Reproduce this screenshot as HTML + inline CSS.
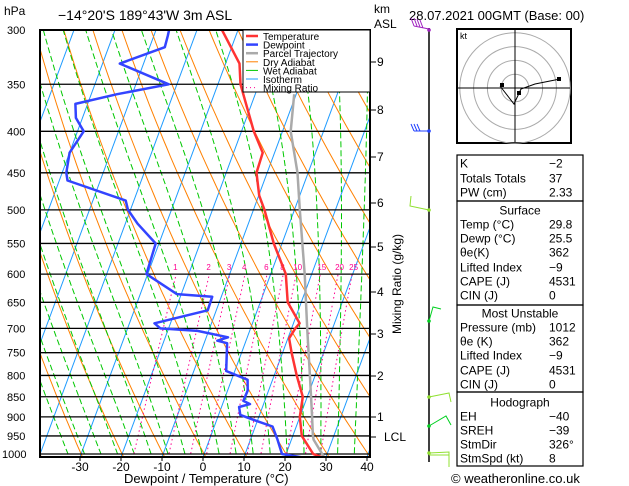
<!DOCTYPE html>
<html><head><meta charset="utf-8"><style>
body{margin:0;background:#fff;}
svg{display:block;font-family:"Liberation Sans",sans-serif;}
</style></head><body>
<svg id="c" width="629" height="486" viewBox="0 0 629 486" xmlns="http://www.w3.org/2000/svg">
<defs><clipPath id="pc"><rect x="40" y="30" width="330" height="427"/></clipPath></defs>
<rect width="629" height="486" fill="#fff"/>
<g id="bg" clip-path="url(#pc)"></g>
<g id="prs"></g>
<g id="prof" clip-path="url(#pc)"></g>
<rect x="40" y="30" width="330" height="427" fill="none" stroke="#000" stroke-width="2"/>
<g id="ax"></g>
<text x="4" y="15" font-size="12">hPa</text>
<text x="58" y="20" font-size="14">−14°20'S  189°43'W  3m  ASL</text>
<text x="374" y="13" font-size="12">km</text>
<text x="374" y="28" font-size="12">ASL</text>
<text x="409" y="20" font-size="13">28.07.2021  00GMT  (Base: 00)</text>
<text x="124" y="483" font-size="13">Dewpoint / Temperature (°C)</text>
<text transform="translate(401,334) rotate(-90)" font-size="12">Mixing Ratio (g/kg)</text>
<g id="legend">
<rect x="243" y="30" width="127" height="62" fill="#fff" stroke="#000" stroke-width="1"/>
</g>
<g id="wind"></g>
<g id="hodo"></g>
<g id="tbl"></g>
<text x="451" y="483" font-size="13">© weatheronline.co.uk</text>
</svg>
<script>
const NS="http://www.w3.org/2000/svg";
// ---- data ----
const tempP=[1012,1000,950,900,850,800,750,720,700,690,650,600,550,500,480,450,425,400,350,330,300];
const tempT=[29.8,26.6,22.2,20.0,18.9,15.5,12.2,10.3,10.9,11.5,6.7,3.7,-2.0,-7.3,-9.9,-12.6,-12.9,-17,-24.5,-26.6,-33.9];
const dewP=[1012,1000,960,925,910,895,875,868,860,835,810,790,730,725,718,705,700,690,665,640,635,600,550,520,500,487,460,450,425,400,385,370,360,350,330,315,305,300];
const dewT=[25.5,19,16.6,14.2,9.7,5.3,4.3,6.7,4.8,4.9,3.9,-2.1,-4.4,-7,-4.7,-12.7,-22,-23.9,-12.1,-12.2,-21.1,-30.3,-30.8,-37,-40.6,-42,-58,-59,-60,-58.5,-61.6,-63,-53.7,-42,-55.8,-46.3,-46.6,-46.8];
const parcelP=[1012,960,950,900,800,700,600,500,450,400,360];
const parcelT=[29.8,25.4,24.9,23,18.7,13.8,8.3,1.3,-2.6,-8,-10.5];
const pLevels=[300,350,400,450,500,550,600,650,700,750,800,850,900,950,1000];
const tTicks=[-30,-20,-10,0,10,20,30,40];
const kmLabels=["9","8","7","6","5","4","3","2","1","LCL"];
const kmY=[62,110,157,203,247,292,334,376,417,437];
const mixR=[1,2,3,4,6,8,10,15,20,25];
// ---- axes ----
const Y=p=>30+424*Math.log(p/300)/Math.log(1000/300);
const X=(t,p)=>203+4.1*t+0.37*(457-Y(p));
function el(tag,attrs,parent,name,txt){const e=document.createElementNS(NS,tag);for(const k in attrs)e.setAttribute(k,attrs[k]);


if(txt!==undefined)e.textContent=txt;parent.appendChild(e);return e;}
const bg=document.getElementById('bg'),prs=document.getElementById('prs'),prof=document.getElementById('prof'),ax=document.getElementById('ax');
function pathFrom(pts){return 'M'+pts.map(q=>q[0].toFixed(1)+','+q[1].toFixed(1)).join('L');}
// isotherms
for(let t=-120;t<=50;t+=10){el('line',{x1:X(t,1050),y1:Y(1050),x2:X(t,280),y2:Y(280),stroke:'#1e9bff','stroke-width':1},bg,'isotherm');}
// dry adiabats
for(let th=-40;th<=180;th+=10){const pts=[];for(let p=1050;p>=290;p-=10){const T=(th+273.15)*Math.pow(p/1000,0.286)-273.15;pts.push([X(T,p),Y(p)]);}
el('path',{d:pathFrom(pts),fill:'none',stroke:'#ff8000','stroke-width':1},bg,'dry-adiabat');}
// wet adiabats
function es(T){return 6.112*Math.exp(17.67*T/(T+243.5));}
for(let t0=-30;t0<=40;t0+=4){let T=t0;const pts=[[X(T,1050),Y(1050)]];
for(let p=1050;p>290;p-=5){const Tk=T+273.15;const rs=0.622*es(T)/(p-es(T));const Lv=2.5e6,Rd=287,cp=1005;
const dTdp=(Rd*Tk+Lv*rs)/(p*(cp+Lv*Lv*rs*0.622/(Rd*Tk*Tk)));T-=dTdp*5;pts.push([X(T,p-5),Y(p-5)]);}
el('path',{d:pathFrom(pts),fill:'none',stroke:'#00c800','stroke-width':1,'stroke-dasharray':'6,3'},bg,'wet-adiabat');}
// mixing ratio
mixR.forEach(w=>{const pts=[];for(let p=1050;p>=600;p-=10){const e=w*p/(622+w);const l=Math.log(e/6.112);const Td=243.5*l/(17.67-l);pts.push([X(Td,p),Y(p)]);}
el('path',{d:pathFrom(pts),fill:'none',stroke:'#ff0090','stroke-width':1,'stroke-dasharray':'1.5,3'},bg,'mixing-ratio-line');
const e=w*600/(622+w);const l=Math.log(e/6.112);const Td=243.5*l/(17.67-l);
el('text',{x:X(Td,600)-3,y:270,'font-size':8,fill:'#ff0090'},prof,'mixing-ratio-label',String(w));});
// pressure lines & labels
pLevels.forEach(p=>{el('line',{x1:40,y1:Y(p),x2:370,y2:Y(p),stroke:'#000','stroke-width':1.3},prs,'pressure-line');
el('text',{x:p==1000?2:7,y:Y(p)+4,'font-size':11},ax,'pressure-tick-label',String(p));});
tTicks.forEach(t=>{const x=203+4.1*t;el('line',{x1:x,y1:457,x2:x,y2:461,stroke:'#000'},ax,'x-tick');
el('text',{x:x,y:471,'font-size':12,'text-anchor':'middle'},ax,'x-tick-label',String(t));});
kmLabels.forEach((k,i)=>{el('line',{x1:370,y1:kmY[i],x2:376,y2:kmY[i],stroke:'#000'},ax,'km-tick');
el('text',{x:i==9?384:377,y:kmY[i]+4,'font-size':12},ax,'km-label',k);});
// profiles
function prof2(P,T,c,w,n){el('path',{d:pathFrom(P.map((p,i)=>[X(T[i],p),Y(p)])),fill:'none',stroke:c,'stroke-width':w,'stroke-linejoin':'round'},prof,n);}
prof2(parcelP,parcelT,'#aaaaaa',2.5,'parcel-trajectory');
prof2(tempP,tempT,'#ff3333',2.5,'temperature-line');
prof2(dewP,dewT,'#3344ff',2.5,'dewpoint-line');
// legend
const lg=document.getElementById('legend');
[['Temperature','#ff3333',2.5,''],['Dewpoint','#3344ff',2.5,''],['Parcel Trajectory','#aaaaaa',2.5,''],['Dry Adiabat','#ff8000',1,''],['Wet Adiabat','#00c800',1,''],['Isotherm','#1e9bff',1,''],['Mixing Ratio','#ff0090',1,'1,3']].forEach((r,i)=>{const y=36+i*8.6;
el('line',{x1:246,y1:y,x2:258,y2:y,stroke:r[1],'stroke-width':r[2],'stroke-dasharray':r[3]},lg,'legend-swatch');
el('text',{x:263,y:y+4,'font-size':10},lg,'legend-entry',r[0]);});
// wind barbs
const wg=document.getElementById('wind');
el('line',{x1:429,y1:28,x2:429,y2:462,stroke:'#000','stroke-width':1.5},wg,'wind-staff');
[[30,'#a020c0','M429,29 L414,26 M414,26 L411,18 M417,26 L414,18 M420,27 L417,19 M423,28 L420,20'],
 [131,'#2040ff','M429,131 L414,131 M414,131 L411,124 M417,131 L414,124 M420,131 L417,124'],
 [210,'#90e030','M429,210 L410,206 L411,196'],
 [321,'#00d020','M429,321 L433,307 L441,309'],
 [397,'#90e030','M429,397 L449,393 L451,402'],
 [426,'#00d020','M429,426 L446,416 L451,425'],
 [453,'#90e030','M429,453 L449,452 L449,467 M429,455 L449,455']].forEach(b=>{
 el('path',{d:b[2],fill:'none',stroke:b[1],'stroke-width':1},wg,'wind-barb');
 el('circle',{cx:429,cy:b[0],r:1.8,fill:b[1]},wg,'wind-barb-dot');});
// hodograph
const hg=document.getElementById('hodo');
el('rect',{x:457,y:29,width:114,height:114,fill:'#fff',stroke:'#000','stroke-width':2},hg,'hodograph-frame');
[10,20,30,40].forEach(r=>el('circle',{cx:515,cy:88,r:r*1.38,fill:'none',stroke:'#aaa'},hg,'hodograph-ring'));
el('line',{x1:458,y1:88,x2:570,y2:88,stroke:'#000'},hg,'hodograph-x-axis');
el('line',{x1:515,y1:30,x2:515,y2:142,stroke:'#000'},hg,'hodograph-y-axis');
el('path',{d:'M560,79 L535,84 L521,89 L514,104 L500,86',fill:'none',stroke:'#000'},hg,'hodograph-trace');
el('rect',{x:557,y:77,width:4,height:4},hg,'hodograph-point');
el('rect',{x:500,y:83,width:4,height:4},hg,'hodograph-point');
el('rect',{x:517,y:91,width:4,height:4},hg,'hodograph-point');
el('text',{x:460,y:39,'font-size':9},hg,'hodograph-unit','kt');
// table
const tb=document.getElementById('tbl');
const rows=[['K','-2'],['Totals Totals','37'],['PW (cm)','2.33'],['#Surface'],['Temp (°C)','29.8'],['Dewp (°C)','25.5'],['θe(K)','362'],['Lifted Index','-9'],['CAPE (J)','4531'],['CIN (J)','0'],['#Most Unstable'],['Pressure (mb)','1012'],['θe (K)','362'],['Lifted Index','-9'],['CAPE (J)','4531'],['CIN (J)','0'],['#Hodograph'],['EH','-40'],['SREH','-39'],['StmDir','326°'],['StmSpd (kt)','8']];
const rowY=[163,178,192,210,224,238,252,267,281,295,313,327,341,355,370,384,402,416,430,444,458];
[[155,201],[201,305],[305,392],[392,466]].forEach(b=>el('rect',{x:457,y:b[0],width:126,height:b[1]-b[0],fill:'none',stroke:'#000','stroke-width':1.2},tb,'table-box'));
rows.forEach((r,i)=>{const y=rowY[i]+4.5;
 if(r[0][0]=='#'){el('text',{x:520,y:y,'font-size':12,'text-anchor':'middle'},tb,'table-section-title',r[0].slice(1));}
 else{el('text',{x:460,y:y,'font-size':12},tb,'table-label',r[0]);el('text',{x:549,y:y,'font-size':12},tb,'table-value',r[1].replace('-','−'));}});
</script>
</body></html>
